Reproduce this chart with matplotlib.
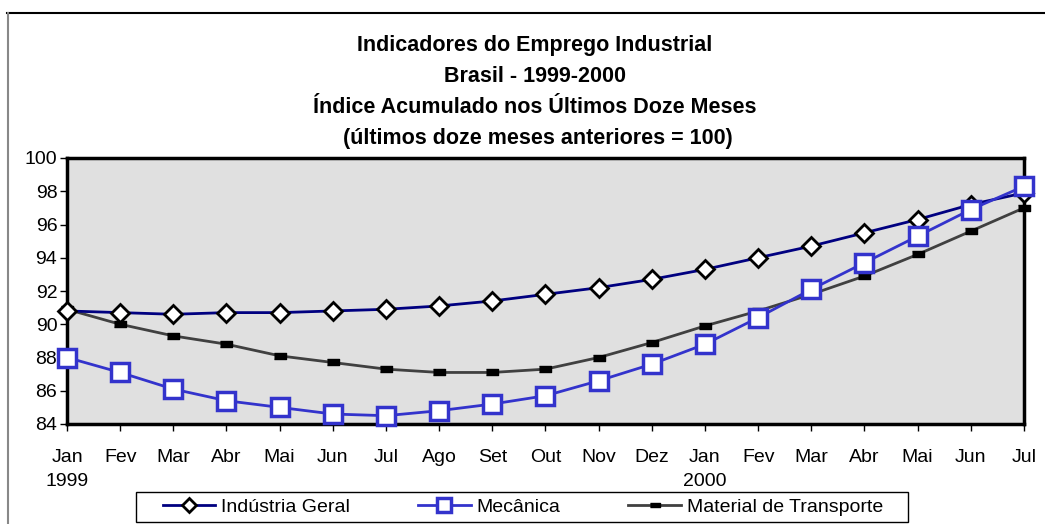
import matplotlib.pyplot as plt
from matplotlib.patches import Rectangle
from matplotlib.lines import Line2D

plt.rcParams['font.family'] = ['Liberation Sans', 'DejaVu Sans']

meses = ['Jan\n1999', 'Fev', 'Mar', 'Abr', 'Mai', 'Jun', 'Jul', 'Ago', 'Set', 'Out',
         'Nov', 'Dez', 'Jan\n2000', 'Fev', 'Mar', 'Abr', 'Mai', 'Jun', 'Jul']
industria = [90.8, 90.7, 90.6, 90.7, 90.7, 90.8, 90.9, 91.1, 91.4, 91.8,
             92.2, 92.7, 93.3, 94.0, 94.7, 95.5, 96.3, 97.2, 97.9]
mecanica = [88.0, 87.1, 86.1, 85.4, 85.0, 84.6, 84.5, 84.8, 85.2, 85.7,
            86.6, 87.6, 88.8, 90.4, 92.1, 93.7, 95.3, 96.9, 98.3]
transporte = [90.9, 90.0, 89.3, 88.8, 88.1, 87.7, 87.3, 87.1, 87.1, 87.3,
              88.0, 88.9, 89.9, 90.8, 91.8, 92.9, 94.2, 95.6, 97.0]
titulos = ['Indicadores do Emprego Industrial', 'Brasil - 1999-2000',
           'Índice Acumulado nos Últimos Doze Meses',
           ' (últimos doze meses anteriores = 100)']

W, H = 1045, 524
fig = plt.figure(figsize=(W / 100, H / 100), dpi=100)
ax = fig.add_axes([67 / W, 1 - 424 / H, (1024 - 67) / W, (424 - 158) / H])
ax.set_facecolor('#e0e0e0')

x = list(range(len(meses)))
dash = [(-1, -0.45), (1, -0.45), (1, 0.45), (-1, 0.45)]

ax.plot(x, transporte, color='#404040', lw=2, marker=dash, ms=9,
        mfc='black', mec='black', label='Material de Transporte', clip_on=False, zorder=3)
ax.plot(x, industria, color='#000080', lw=2, marker='D', ms=9,
        mfc='white', mec='black', mew=2, label='Indústria Geral', clip_on=False, zorder=4)
ax.plot(x, mecanica, color='#3333cc', lw=2, marker='s', ms=13,
        mfc='white', mec='#3333cc', mew=2.5, label='Mecânica', clip_on=False, zorder=5)

ax.set_xlim(0, 18)
ax.set_ylim(84, 100)
ax.set_yticks(range(84, 101, 2))
ax.set_xticks(x)
ax.set_xticklabels(meses, fontsize=14)
ax.tick_params(axis='y', labelsize=14, direction='out', length=5, width=1, pad=2)
ax.tick_params(axis='x', direction='out', length=5, width=1, pad=13)
for lbl in ax.get_xticklabels():
    lbl.set_linespacing(1.5)
for s in ax.spines.values():
    s.set_linewidth(2.5)
    s.set_color('black')

# titulo, uma linha de cada vez
for i, t in enumerate(titulos):
    fig.text(535 / W, 1 - (51 + 31 * i) / H, t, ha='center', va='baseline',
             fontsize=15.5, fontweight='bold')

# legenda sem moldura, moldura desenhada a parte
h, l = ax.get_legend_handles_labels()
order = [1, 2, 0]
leg = fig.legend([h[i] for i in order], [l[i] for i in order], loc='center',
                 bbox_to_anchor=(523 / W, 1 - 507 / H), ncol=3, fontsize=14, frameon=False,
                 handlelength=2.7, columnspacing=3.5, borderpad=0, handletextpad=0.3)
for lh in leg.legend_handles:
    lh.set_markersize(lh.get_markersize() * 0.75)
fig.patches.append(Rectangle((136 / W, 1 - 522 / H), 772 / W, 30 / H,
                             transform=fig.transFigure, fill=False,
                             edgecolor='black', lw=1))

# bordas externas
fig.lines.append(Line2D([7 / W, 1], [1 - 13 / H] * 2, transform=fig.transFigure,
                        color='black', lw=1.5))
fig.lines.append(Line2D([7.5 / W] * 2, [0, 1 - 13 / H], transform=fig.transFigure,
                        color='#888888', lw=1.5))

fig.savefig('out.png', dpi=100)
